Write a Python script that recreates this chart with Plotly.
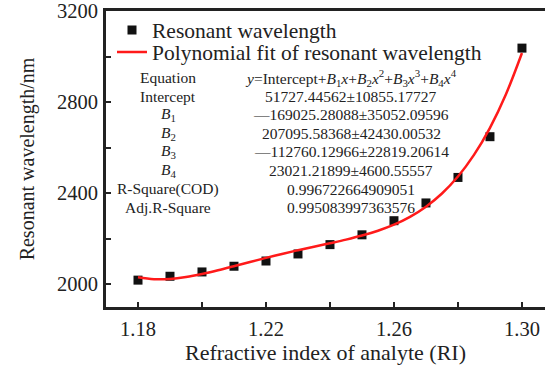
import plotly.graph_objects as go

# ---- data ----
ri = [1.18, 1.19, 1.20, 1.21, 1.22, 1.23, 1.24, 1.25, 1.26, 1.27, 1.28, 1.29, 1.30]
wavelength_nm = [2018, 2035, 2054, 2079, 2102, 2133, 2174, 2217, 2279, 2357, 2469, 2648, 3037]

fit_ri = [1.180, 1.185, 1.190, 1.195, 1.200, 1.205, 1.210, 1.215, 1.220, 1.225,
          1.230, 1.235, 1.240, 1.245, 1.250, 1.255, 1.260, 1.265, 1.270, 1.275,
          1.280, 1.285, 1.290, 1.295, 1.300]
fit_nm = [2030.9, 2022.2, 2023.2, 2031.4, 2044.7, 2061.1, 2079.2, 2097.7, 2115.8, 2133.1,
          2149.4, 2164.8, 2180.1, 2195.9, 2213.7, 2235.0, 2261.6, 2296.0, 2340.7, 2398.6,
          2473.1, 2567.9, 2687.0, 2834.6, 3015.6]

x_tickvals = [1.18, 1.20, 1.22, 1.24, 1.26, 1.28, 1.30]
x_ticktext = ["1.18", "", "1.22", "", "1.26", "", "1.30"]
y_tickvals = [2000, 2200, 2400, 2600, 2800, 3000, 3200]
y_ticktext = ["2000", "", "2400", "", "2800", "", "3200"]

table_labels = [
    "Equation", "Intercept", "<i>B</i><sub>1</sub>", "<i>B</i><sub>2</sub>",
    "<i>B</i><sub>3</sub>", "<i>B</i><sub>4</sub>", "R-Square(COD)", "Adj.R-Square",
]
table_values = [
    "<i>y</i>=Intercept+<i>B</i><sub>1</sub><i>x</i>+<i>B</i><sub>2</sub><i>x</i><sup>2</sup>"
    "+<i>B</i><sub>3</sub><i>x</i><sup>3</sup>+<i>B</i><sub>4</sub><i>x</i><sup>4</sup>",
    "51727.44562±10855.17727",
    "—169025.28088±35052.09596",
    "207095.58368±42430.00532",
    "—112760.12966±22819.20614",
    "23021.21899±4600.55557",
    "0.996722664909051",
    "0.995083997363576",
]

FONT = "Liberation Serif, Times New Roman, serif"
INK = "#222222"

L, R, T, B = 106, 0, 11, 65
W, H = 545, 372
pw, ph = W - L - R, H - T - B


def py(ypix):
    return (H - B - ypix) / ph


def px(xpix):
    return (xpix - L) / pw


fig = go.Figure()
fig.add_trace(go.Scatter(
    x=ri, y=wavelength_nm, mode="markers", name="Resonant wavelength",
    marker=dict(symbol="square", size=9, color="#111111"), legend="legend",
))
fig.add_trace(go.Scatter(
    x=fit_ri, y=fit_nm, mode="lines", name="Polynomial fit of resonant wavelength",
    line=dict(color="#ff1a1a", width=2.5, shape="spline"), legend="legend2",
))

row0 = 77.5
dy = 18.6
for i, (lab, val) in enumerate(zip(table_labels, table_values)):
    yp = py(row0 + dy * i)
    fig.add_annotation(x=px(168), y=yp, xref="paper", yref="paper",
                       text=lab, showarrow=False, xanchor="center", yanchor="middle",
                       font=dict(family=FONT, size=15.5, color=INK))
    fig.add_annotation(x=px(351), y=yp, xref="paper", yref="paper",
                       text=val, showarrow=False, xanchor="center", yanchor="middle",
                       font=dict(family=FONT, size=15.5, color=INK))

legend_common = dict(xanchor="left", yanchor="middle", bgcolor="rgba(0,0,0,0)",
                     font=dict(family=FONT, size=21.5, color=INK), borderwidth=0)

fig.update_layout(
    width=W, height=H,
    margin=dict(l=L, r=R, t=T, b=B, autoexpand=False),
    paper_bgcolor="white", plot_bgcolor="white",
    font=dict(family=FONT, size=20, color=INK),
    showlegend=True,
    legend=dict(x=px(112), y=py(30), **legend_common),
    legend2=dict(x=px(112), y=py(52), **legend_common),
)
fig.update_xaxes(
    range=[1.17, 1.3072], tickvals=x_tickvals, ticktext=x_ticktext,
    ticks="inside", ticklen=5, tickwidth=2, tickcolor=INK,
    showline=True, linecolor=INK, linewidth=3, mirror=True,
    showgrid=False, zeroline=False,
    tickfont=dict(family=FONT, size=20.5, color=INK), ticklabelstandoff=1,
    title=dict(text="Refractive index of analyte (RI)", font=dict(family=FONT, size=22, color=INK),
               standoff=3),
)
fig.update_yaxes(
    range=[1900, 3200], tickvals=y_tickvals, ticktext=y_ticktext,
    ticks="inside", ticklen=5, tickwidth=2, tickcolor=INK,
    showline=True, linecolor=INK, linewidth=3, mirror=False,
    showgrid=False, zeroline=False,
    tickfont=dict(family=FONT, size=20.5, color=INK), ticklabelstandoff=1,
    title=dict(text="Resonant wavelength/nm", font=dict(family=FONT, size=20, color=INK),
               standoff=17),
)

fig.write_html("out.html")
